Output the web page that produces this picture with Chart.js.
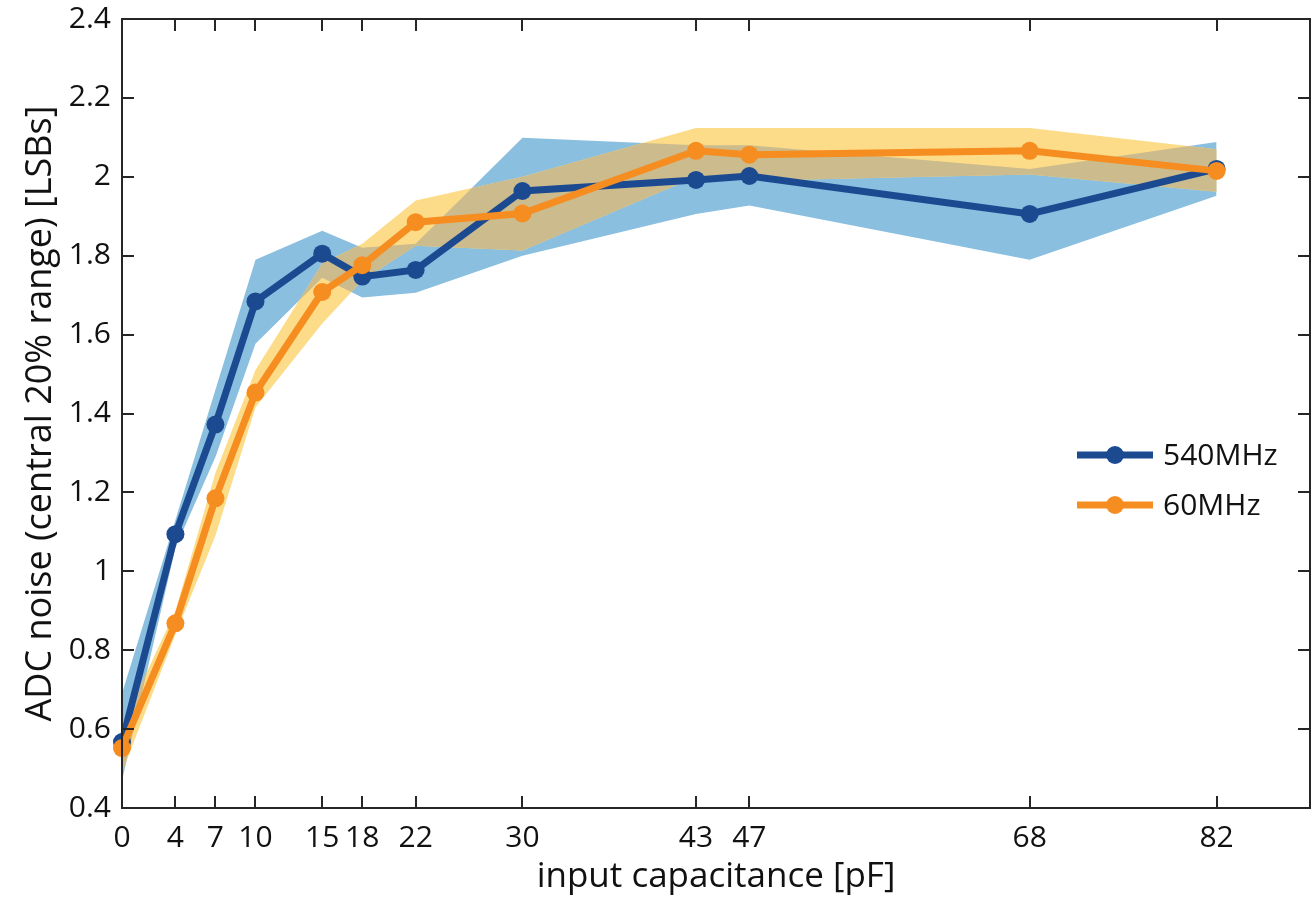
<!DOCTYPE html>
<html>
<head>
<meta charset="utf-8">
<script src="https://cdn.jsdelivr.net/npm/chart.js@4.4.1/dist/chart.umd.min.js"></script>
<style>
  html, body { margin: 0; padding: 0; background: #fff; }
  #wrap { width: 1311px; height: 898px; }
</style>
</head>
<body>
<div id="wrap"><canvas id="c" width="1311" height="898"></canvas></div>
<script>
// input capacitance [pF]
const caps = [0, 4, 7, 10, 15, 18, 22, 30, 43, 47, 68, 82];

// median noise per capacitance
const noise540 = [0.567, 1.094, 1.372, 1.684, 1.805, 1.747, 1.764, 1.964, 1.992, 2.002, 1.906, 2.02];
const noise60  = [0.552, 0.868, 1.185, 1.453, 1.708, 1.776, 1.885, 1.907, 2.066, 2.056, 2.066, 2.015];

// shaded spread
const band540Hi = [0.69, 1.13, 1.46, 1.79, 1.863, 1.82, 1.83, 2.099, 2.08, 2.08, 2.02, 2.088];
const band540Lo = [0.47, 1.06, 1.29, 1.577, 1.744, 1.694, 1.706, 1.80, 1.906, 1.927, 1.79, 1.952];
const band60Hi  = [0.61, 0.90, 1.25, 1.51, 1.78, 1.83, 1.94, 2.0, 2.124, 2.124, 2.124, 2.07];
const band60Lo  = [0.49, 0.84, 1.09, 1.415, 1.628, 1.737, 1.825, 1.813, 2.0, 1.99, 2.006, 1.962];

const yTicks = [0.4, 0.6, 0.8, 1.0, 1.2, 1.4, 1.6, 1.8, 2.0, 2.2, 2.4];

const BLUE = '#1b4a91';
const ORANGE = '#f68d21';
const BLUE_BAND = '#8abfdf';
const YELLOW_BAND = '#fcdc88';
const MIX_BAND = '#cbbb8d';
const FONT = '"Open Sans", "DejaVu Sans", sans-serif';

const pts = arr => arr.map((v, i) => ({ x: caps[i], y: v }));

const lineDs = (label, arr, color, order) => ({
  label: label,
  data: pts(arr),
  borderColor: color,
  backgroundColor: color,
  borderWidth: 7,
  pointRadius: 9,
  pointBorderWidth: 0,
  pointBackgroundColor: color,
  fill: false,
  clip: false,
  order: order
});

const bandDs = (arr, fillTo, color, order) => ({
  label: '',
  data: pts(arr),
  borderWidth: 0,
  borderColor: 'rgba(0,0,0,0)',
  pointRadius: 0,
  backgroundColor: color,
  fill: fillTo,
  order: order
});

// path of a band (upper edge then lower edge back)
function bandPath(ctx, x, y, hi, lo) {
  ctx.beginPath();
  caps.forEach((c, i) => {
    const px = x.getPixelForValue(c), py = y.getPixelForValue(hi[i]);
    if (i === 0) ctx.moveTo(px, py); else ctx.lineTo(px, py);
  });
  for (let i = caps.length - 1; i >= 0; i--) {
    ctx.lineTo(x.getPixelForValue(caps[i]), y.getPixelForValue(lo[i]));
  }
  ctx.closePath();
}

// where the two bands overlap, paint the mixed colour
const overlapPlugin = {
  id: 'overlap',
  afterDatasetDraw(chart, args) {
    if (args.index !== 2) return;
    const { ctx, scales: { x, y } } = chart;
    ctx.save();
    bandPath(ctx, x, y, band60Hi, band60Lo);
    ctx.clip();
    bandPath(ctx, x, y, band540Hi, band540Lo);
    ctx.fillStyle = MIX_BAND;
    ctx.fill();
    ctx.restore();
  }
};

// frame, inward ticks and legend
const framePlugin = {
  id: 'frame',
  afterDatasetsDraw(chart) {
    const { ctx, chartArea: a, scales: { x, y } } = chart;
    ctx.save();
    ctx.strokeStyle = '#262626';
    ctx.lineWidth = 2;
    ctx.strokeRect(a.left, a.top, a.right - a.left, a.bottom - a.top);
    ctx.beginPath();
    x.ticks.forEach(t => {
      const px = Math.round(x.getPixelForValue(t.value));
      ctx.moveTo(px, a.bottom); ctx.lineTo(px, a.bottom - 12);
      ctx.moveTo(px, a.top); ctx.lineTo(px, a.top + 12);
    });
    y.ticks.forEach(t => {
      const py = Math.round(y.getPixelForValue(t.value));
      ctx.moveTo(a.left, py); ctx.lineTo(a.left + 12, py);
      ctx.moveTo(a.right, py); ctx.lineTo(a.right - 12, py);
    });
    ctx.stroke();

    // legend
    const rows = [chart.data.datasets[1], chart.data.datasets[0]];
    ctx.font = '30px ' + FONT;
    ctx.textBaseline = 'middle';
    ctx.textAlign = 'left';
    rows.forEach((ds, i) => {
      const ly = 455 + i * 50;
      ctx.strokeStyle = ds.borderColor;
      ctx.lineWidth = 7;
      ctx.beginPath();
      ctx.moveTo(1077, ly); ctx.lineTo(1153, ly);
      ctx.stroke();
      ctx.fillStyle = ds.borderColor;
      ctx.beginPath();
      ctx.arc(1115, ly, 9, 0, Math.PI * 2);
      ctx.fill();
      ctx.fillStyle = '#111';
      ctx.fillText(ds.label, 1163, ly + 1);
    });
    ctx.restore();
  }
};

new Chart(document.getElementById('c'), {
  type: 'line',
  data: {
    datasets: [
      lineDs('60MHz', noise60, ORANGE, 0),
      lineDs('540MHz', noise540, BLUE, 1),
      bandDs(band60Hi, 3, YELLOW_BAND, 2),
      bandDs(band60Lo, false, 'rgba(0,0,0,0)', 2),
      bandDs(band540Hi, 5, BLUE_BAND, 3),
      bandDs(band540Lo, false, 'rgba(0,0,0,0)', 3)
    ]
  },
  options: {
    responsive: false,
    animation: false,
    layout: { autoPadding: false, padding: { top: 19, right: 1, left: 0, bottom: 0 } },
    plugins: { legend: { display: false }, tooltip: { enabled: false } },
    elements: { line: { tension: 0 } },
    scales: {
      x: {
        type: 'linear',
        min: 0,
        max: 89,
        afterBuildTicks: s => { s.ticks = caps.map(v => ({ value: v })); },
        afterFit: s => { s.height = 90; s.paddingLeft = 0; s.paddingRight = 0; },
        grid: { display: false, drawTicks: false },
        border: { display: false },
        ticks: {
          color: '#111',
          font: { family: FONT, size: 30 },
          padding: 12,
          maxRotation: 0,
          autoSkip: false,
          callback: v => String(v)
        },
        title: {
          display: true,
          text: 'input capacitance [pF]',
          color: '#111',
          font: { family: FONT, size: 35 },
          padding: { top: 0, bottom: 0 }
        }
      },
      y: {
        min: 0.4,
        max: 2.4,
        afterBuildTicks: s => { s.ticks = yTicks.map(v => ({ value: v })); },
        afterFit: s => { s.width = 122; s.paddingTop = 0; s.paddingBottom = 0; },
        grid: { display: false, drawTicks: false },
        border: { display: false },
        ticks: {
          color: '#111',
          font: { family: FONT, size: 30 },
          padding: 11,
          callback: v => String(Number(v.toFixed(1)))
        },
        title: {
          display: true,
          text: 'ADC noise (central 20% range) [LSBs]',
          color: '#111',
          font: { family: FONT, size: 36 },
          padding: { top: 19, bottom: 19 }
        }
      }
    }
  },
  plugins: [overlapPlugin, framePlugin]
});
</script>
</body>
</html>
